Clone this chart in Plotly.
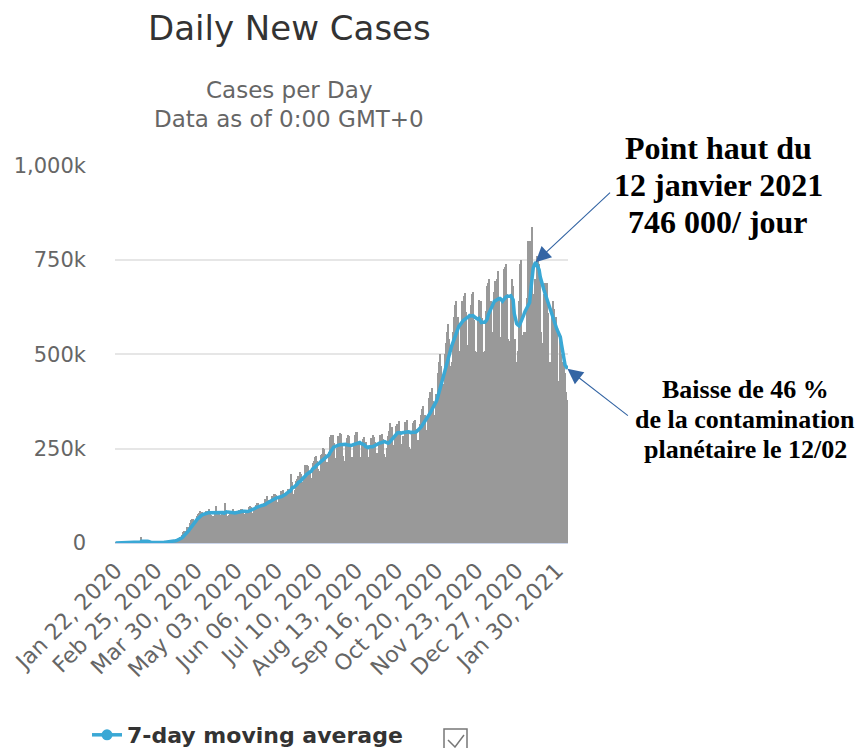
import numpy as np
import pandas as pd
import plotly.graph_objects as go

# ---------------- data (thousands of new cases per day) ----------------
start_date = "2020-01-22"

daily_cases_k = [
    0.1, 0.2, 0.3, 0.7, 0.7, 0.8, 1.5,
    1.7, 2.0, 2.1, 2.6, 2.8, 3.2, 3.9,
    3.7, 3.2, 3.4, 2.7, 2.7, 3.1, 2.0,
    2.1, 15.1, 6.5, 2.1, 2.1, 2.0, 1.9,
    0.6, 0.9, 0.9, 0.7, 0.9, 0.5, 0.9,
    1.1, 1.3, 1.8, 1.9, 2.2, 2.0, 2.5,
    2.3, 2.8, 3.8, 4.0, 3.9, 4.2, 4.8,
    7.2, 7.5, 10.9, 10.9, 11.0, 14.0, 16.5,
    20.5, 28.0, 32.0, 32.5, 33.0, 41.5, 43.0,
    52, 62, 64, 64, 59, 62, 72,
    76, 79, 84, 83, 73, 72, 77,
    86, 85, 89, 80, 74, 72, 72,
    80, 97, 86, 80, 77, 73, 76,
    78, 84, 105, 85, 72, 73, 76,
    78, 86, 89, 84, 78, 78, 79,
    88, 90, 90, 86, 77, 74, 83,
    86, 96, 97, 95, 80, 90, 96,
    100, 107, 106, 100, 98, 90, 97,
    105, 117, 125, 115, 105, 105, 111,
    124, 129, 131, 127, 109, 104, 119,
    138, 137, 141, 133, 129, 126, 144,
    143, 143, 182, 162, 131, 141, 164,
    169, 177, 188, 182, 161, 159, 172,
    206, 207, 203, 190, 185, 172, 212,
    216, 227, 230, 217, 196, 191, 232,
    235, 253, 250, 237, 215, 209, 240,
    281, 285, 287, 264, 221, 224, 252,
    284, 291, 290, 260, 230, 217, 258,
    277, 285, 283, 262, 228, 229, 266,
    287, 293, 295, 264, 229, 214, 260,
    275, 281, 267, 255, 220, 228, 255,
    277, 285, 280, 268, 232, 238, 268,
    286, 287, 290, 275, 237, 227, 253,
    283, 296, 318, 308, 259, 256, 279,
    309, 315, 324, 297, 258, 261, 283,
    320, 320, 325, 295, 254, 249, 290,
    318, 323, 327, 302, 273, 270, 316,
    340, 355, 362, 340, 300, 298, 338,
    383, 400, 410, 375, 330, 340, 395,
    450, 480, 500, 470, 410, 420, 500,
    530, 560, 580, 540, 470, 480, 560,
    600, 630, 640, 600, 510, 505, 580,
    640, 655, 662, 612, 525, 520, 605,
    630, 660, 665, 590, 510, 505, 590,
    645, 610, 640, 595, 505, 510, 615,
    680, 690, 700, 640, 545, 560, 665,
    695, 700, 720, 650, 545, 530, 645,
    725, 730, 740, 660, 540, 535, 655,
    700, 680, 480, 540, 480, 510, 640,
    740, 750, 550, 560, 540, 560, 650,
    800, 800, 790, 836, 660, 622, 700,
    760, 750, 740, 700, 560, 530, 660,
    690, 680, 690, 610, 480, 470, 600,
    640, 620, 600, 560, 430, 420, 550,
    500, 480, 470, 450, 400, 380,
]

moving_avg_k = [
    0.1, 0.15, 0.2, 0.33, 0.4, 0.47, 0.61,
    0.84, 1.1, 1.36, 1.63, 1.93, 2.27, 2.61,
    2.9, 3.07, 3.26, 3.27, 3.26, 3.24, 2.97,
    2.74, 4.44, 4.89, 4.8, 4.71, 4.56, 4.54,
    4.33, 2.3, 1.5, 1.3, 1.13, 0.91, 0.77,
    0.84, 0.9, 1.03, 1.2, 1.39, 1.6, 1.83,
    2.0, 2.21, 2.5, 2.8, 3.04, 3.36, 3.69,
    4.39, 5.06, 6.07, 7.06, 8.07, 9.47, 11.14,
    13.04, 15.97, 18.99, 22.07, 25.21, 29.14, 32.93,
    37.43, 42.29, 46.86, 51.36, 55.07, 58.0, 62.14,
    65.57, 68.0, 70.86, 73.57, 75.57, 77.0, 77.71,
    79.14, 80.0, 80.71, 80.29, 80.43, 80.43, 79.71,
    78.86, 80.57, 80.14, 80.14, 80.57, 80.71, 81.29,
    81.0, 79.14, 81.86, 82.57, 81.86, 81.86, 81.86,
    81.86, 82.14, 79.86, 79.71, 80.57, 81.29, 81.71,
    83.14, 83.71, 83.86, 84.14, 84.0, 83.43, 84.0,
    83.71, 84.57, 85.57, 86.86, 87.29, 89.57, 91.43,
    93.43, 95.0, 96.29, 97.0, 99.57, 99.57, 99.71,
    100.43, 101.86, 104.57, 106.71, 107.71, 109.86, 111.86,
    114.57, 116.29, 117.14, 118.86, 119.43, 119.29, 120.43,
    122.43, 123.57, 125.0, 125.86, 128.71, 131.86, 135.43,
    136.14, 137.0, 142.86, 147.0, 147.29, 149.43, 152.29,
    156.0, 160.86, 161.71, 164.57, 168.86, 171.43, 172.57,
    177.86, 182.14, 184.29, 185.43, 188.86, 190.71, 196.43,
    197.86, 200.71, 204.57, 208.43, 210.0, 212.71, 215.57,
    218.29, 222.0, 224.86, 227.71, 230.43, 233.0, 234.14,
    240.71, 245.29, 250.57, 254.43, 255.29, 257.43, 259.14,
    259.57, 260.43, 260.86, 260.29, 261.57, 260.57, 261.43,
    260.43, 259.57, 258.57, 258.86, 258.57, 260.29, 261.43,
    262.86, 264.0, 265.71, 266.0, 266.14, 264.0, 263.14,
    261.43, 259.71, 255.71, 254.43, 253.14, 255.14, 254.43,
    254.71, 255.29, 257.14, 259.0, 260.71, 262.14, 264.0,
    265.29, 265.57, 267.0, 268.0, 268.71, 267.14, 265.0,
    264.57, 265.86, 269.86, 274.57, 277.71, 281.86, 285.57,
    289.29, 292.0, 292.86, 291.29, 291.14, 291.86, 292.43,
    294.0, 294.71, 294.86, 294.57, 294.0, 292.29, 293.29,
    293.0, 293.43, 293.71, 294.71, 297.43, 300.43, 304.14,
    307.29, 311.86, 316.86, 322.29, 326.14, 330.14, 333.29,
    339.43, 345.86, 352.71, 357.71, 362.0, 368.0, 376.14,
    385.71, 397.14, 410.0, 423.57, 435.0, 446.43, 461.43,
    472.86, 484.29, 495.71, 505.71, 514.29, 522.86, 531.43,
    541.43, 551.43, 560.0, 568.57, 574.29, 577.86, 580.71,
    586.43, 590.0, 593.14, 594.86, 597.0, 599.14, 602.71,
    601.29, 602.0, 602.43, 599.29, 597.14, 595.0, 592.86,
    595.0, 587.86, 584.29, 585.0, 584.29, 585.0, 588.57,
    593.57, 605.0, 613.57, 620.0, 625.71, 632.86, 640.0,
    642.14, 643.57, 646.43, 647.86, 647.86, 643.57, 640.71,
    645.0, 649.29, 652.14, 653.57, 652.86, 653.57, 655.0,
    651.43, 644.29, 607.14, 590.0, 581.43, 577.86, 575.71,
    581.43, 591.43, 601.43, 604.29, 612.86, 620.0, 621.43,
    630.0, 637.14, 671.43, 710.86, 728.0, 736.86, 744.0,
    738.29, 731.14, 724.0, 704.57, 690.29, 677.14, 671.43,
    661.43, 651.43, 644.29, 631.43, 620.0, 611.43, 602.86,
    595.71, 587.14, 574.29, 567.14, 560.0, 552.86, 545.71,
    525.71, 505.71, 487.14, 471.43, 467.14, 461.43,
]

tick_dates = ["2020-01-22", "2020-02-25", "2020-03-30", "2020-05-03",
              "2020-06-06", "2020-07-10", "2020-08-13", "2020-09-16",
              "2020-10-20", "2020-11-23", "2020-12-27", "2021-01-30"]
tick_labels = ["Jan 22, 2020", "Feb 25, 2020", "Mar 30, 2020", "May 03, 2020",
               "Jun 06, 2020", "Jul 10, 2020", "Aug 13, 2020", "Sep 16, 2020",
               "Oct 20, 2020", "Nov 23, 2020", "Dec 27, 2020", "Jan 30, 2021"]

y_tick_vals = [0, 250, 500, 750, 1000]
y_tick_labels = ["0", "250k", "500k", "750k", "1,000k"]

title_text = "Daily New Cases"
subtitle_lines = ["Cases per Day", "Data as of 0:00 GMT+0"]
legend_name = "7-day moving average"
note_peak = ["Point haut du", "12 janvier 2021", "746 000/ jour"]
note_drop = ["Baisse de 46 %", "de la contamination", "planétaire le 12/02"]

# ---------------- figure ----------------
dates = pd.date_range(start_date, periods=len(daily_cases_k), freq="D")

BAR = "#999999"
LINE = "#3aa8d5"
ARROW = "#3465a4"
LABEL = "#666666"
SANS = "DejaVu Sans"
SERIF = "Liberation Serif"

fig = go.Figure()
fig.add_trace(go.Bar(x=dates, y=daily_cases_k, marker=dict(color=BAR, line=dict(width=0)),
                     showlegend=False, hoverinfo="x+y"))
fig.add_trace(go.Scatter(x=dates, y=moving_avg_k, mode="lines",
                         line=dict(color=LINE, width=3.5), showlegend=False))
# legend entry (line + marker, as in the original legend)
fig.add_trace(go.Scatter(x=[None], y=[None], mode="lines+markers", name=f"<b>{legend_name}</b>",
                         line=dict(color=LINE, width=3.5),
                         marker=dict(color=LINE, size=11, symbol="circle")))

W, H = 862, 748
L, R, T, B = 115, 294, 165, 205
pw, ph = W - L - R, H - T - B

def px(xp):
    return (xp - L) / pw

def py(yp):
    return (H - B - yp) / ph

annotations = []
annotations.append(dict(text=title_text, x=px(289), y=py(28), xref="paper", yref="paper",
                        xanchor="center", yanchor="middle", showarrow=False,
                        font=dict(family=SANS, size=34, color="#333333")))
for i, line_txt in enumerate(subtitle_lines):
    annotations.append(dict(text=line_txt, x=px(289), y=py(90 + 29 * i), xref="paper", yref="paper",
                            xanchor="center", yanchor="middle", showarrow=False,
                            font=dict(family=SANS, size=23, color=LABEL)))
for i, line_txt in enumerate(note_peak):
    annotations.append(dict(text=f"<b>{line_txt}</b>", x=px(718), y=py(148 + 37 * i),
                            xref="paper", yref="paper", xanchor="center", yanchor="middle",
                            showarrow=False, font=dict(family=SERIF, size=32, color="black")))
for i, line_txt in enumerate(note_drop):
    annotations.append(dict(text=f"<b>{line_txt}</b>", x=px(745), y=py(389 + 30 * i),
                            xref="paper", yref="paper", xanchor="center", yanchor="middle",
                            showarrow=False, font=dict(family=SERIF, size=26, color="black")))

peak_i = int(np.argmax(moving_avg_k))
annotations.append(dict(text="", x=dates[peak_i], y=moving_avg_k[peak_i], xref="x", yref="y",
                        showarrow=True, ax=76, ay=-71, arrowhead=2, arrowsize=2.8,
                        arrowwidth=1.1, arrowcolor=ARROW, standoff=0))
annotations.append(dict(text="", x=dates[-1], y=moving_avg_k[-1], xref="x", yref="y",
                        showarrow=True, ax=62, ay=48, arrowhead=2, arrowsize=2.8,
                        arrowwidth=1.1, arrowcolor=ARROW, standoff=0))

# legend checkbox (drawn as in the original legend)
shapes = [
    dict(type="rect", xref="paper", yref="paper", x0=px(444), x1=px(467), y0=py(752), y1=py(729),
         line=dict(color="#777777", width=1.5), fillcolor="white"),
    dict(type="path", xref="paper", yref="paper",
         path=f"M{px(448)},{py(740)} L{px(455)},{py(747)} L{px(464)},{py(735)}",
         line=dict(color="#777777", width=1.5)),
]

fig.update_layout(
    width=W, height=H, autosize=False,
    margin=dict(l=L, r=R, t=T, b=B, pad=0),
    paper_bgcolor="white", plot_bgcolor="white",
    bargap=0,
    showlegend=True,
    legend=dict(orientation="h", xref="container", yref="container",
                x=87 / W, y=(H - 735) / H, xanchor="left", yanchor="middle",
                font=dict(family=SANS, size=22, color="#333333"), bgcolor="rgba(0,0,0,0)"),
    annotations=annotations,
    shapes=shapes,
    xaxis=dict(type="date", range=["2020-01-21 12:00", "2021-02-08 12:00"],
               tickvals=tick_dates, ticktext=tick_labels, tickangle=-45,
               tickfont=dict(family=SANS, size=22, color=LABEL),
               showgrid=False, showline=True, linecolor="#ccd6eb", linewidth=1,
               ticks="", zeroline=False, automargin=False, ticklabelstandoff=5),
    yaxis=dict(range=[0, 1001.5], tickvals=y_tick_vals, ticktext=y_tick_labels,
               tickfont=dict(family=SANS, size=21, color=LABEL),
               showgrid=True, gridcolor="#e6e6e6", gridwidth=1.5,
               zeroline=False, showline=False, ticks="", ticklabelstandoff=28,
               automargin=False),
)

fig.write_html("out.html", config={"displayModeBar": False},
               post_script="document.body.style.margin='0';")
